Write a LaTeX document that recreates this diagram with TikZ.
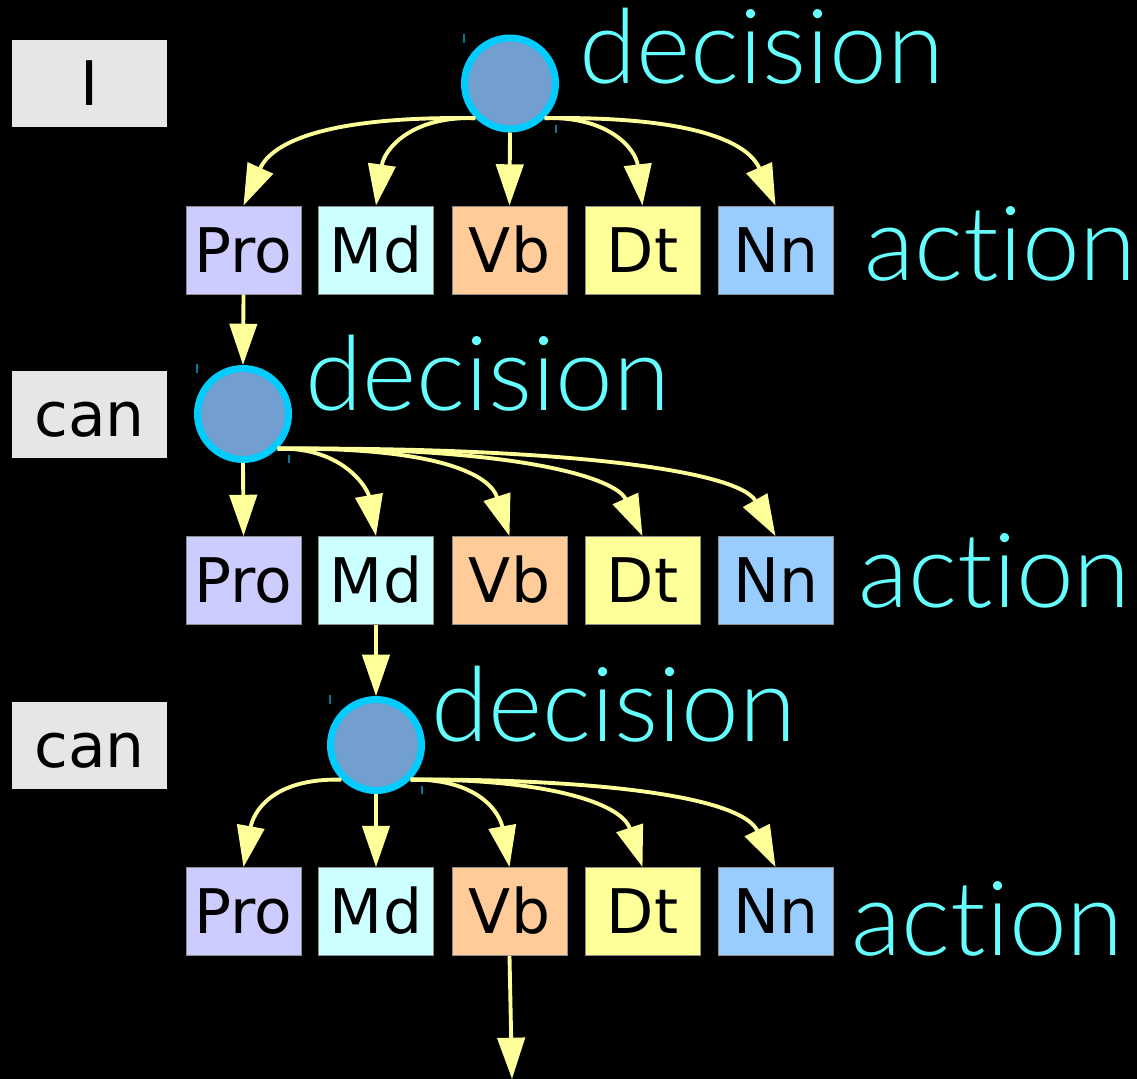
\documentclass[tikz,border=0pt]{standalone}
\usepackage{fontspec}
\setmainfont{DejaVu Sans}
\newfontfamily\labfont{Lato Light}[Ligatures=NoCommon]
\usetikzlibrary{arrows.meta}
\definecolor{arrowc}{HTML}{FFFF99}
\definecolor{labc}{HTML}{66FFFF}
\definecolor{lgray}{HTML}{E6E6E6}
\definecolor{decfill}{HTML}{729FCF}
\definecolor{decring}{HTML}{00CCFF}
\definecolor{cpro}{HTML}{CCCCFF}
\definecolor{cmd}{HTML}{CCFFFF}
\definecolor{cvb}{HTML}{FFCC99}
\definecolor{cdt}{HTML}{FFFF99}
\definecolor{cnn}{HTML}{99CCFF}
\begin{document}
\begin{tikzpicture}[x=0.02cm,y=-0.02cm,
  word/.style={draw=black!45, line width=0.5pt, minimum width=2.3cm, minimum height=1.76cm,
    inner sep=0pt, text height=25.5pt, text depth=0pt, text=black,
    font=\fontsize{35}{35}\selectfont},
  lbox/.style={fill=lgray, minimum width=3.1cm, minimum height=1.74cm,
    inner sep=0pt, text height=25.5pt, text depth=0pt, text=black,
    font=\fontsize{35}{35}\selectfont},
  dec/.style={circle, fill=decfill, draw=decring, line width=0.14cm,
    minimum size=1.82cm, inner sep=0pt},
  lab/.style={text=labc, anchor=base west, inner sep=0pt,
    font=\labfont\fontsize{59}{59}\selectfont},
  tick/.style={draw=decring!60!black, line width=0.6pt},
  arr/.style={draw=arrowc, line width=2.2pt, -{Triangle[length=23.5pt,width=15.5pt]}}
]
\fill[black] (0,0) rectangle (1137,1079);
\useasboundingbox (0,0) rectangle (1137,1079);

% left word boxes
\node[lbox] (w1) at (89.5,83.5) {I};
\node[lbox] (w2) at (89.5,414.5) {can};
\node[lbox] (w3) at (89.5,745.5) {can};

% action rows
\foreach \r/\y in {1/250,2/580.5,3/911.5}{
  \node[word, fill=cpro] (p\r) at (243.5,\y) {Pro};
  \node[word, fill=cmd]  (m\r) at (376,\y) {Md};
  \node[word, fill=cvb]  (v\r) at (509.5,\y) {Vb};
  \node[word, fill=cdt]  (d\r) at (642.5,\y) {Dt};
  \node[word, fill=cnn]  (n\r) at (775.5,\y) {Nn};
}

% decision circles
\node[dec] (c1) at (510,83.5) {};
\node[dec] (c2) at (243,414) {};
\node[dec] (c3) at (376,745) {};
\foreach \c in {c1,c2,c3}{
  \draw[tick] ([shift={(-46,-50)}]\c.center) -- ++(0,9);
  \draw[tick] ([shift={(46,41)}]\c.center) -- ++(0,8);
}

% labels
\node[lab] (t1) at (579,83) {decision};
\node[lab] (a1) at (864,280) {act\kern0pt ion};
\node[lab] (t2) at (305,410) {decision};
\node[lab] (a2) at (858,607) {act\kern0pt ion};
\node[lab] (t3) at (431,741) {decision};
\node[lab] (a3) at (851,955) {act\kern0pt ion};

% row 1 arrows
\draw[arr] (c1.-135) .. controls (327,116) and (272,142) .. (p1.north);
\draw[arr] (c1.-135) .. controls (410,116) and (384,150) .. (m1.north);
\draw[arr] (c1.south) -- (v1.north);
\draw[arr] (c1.-45) .. controls (610,116) and (636,150) .. (d1.north);
\draw[arr] (c1.-45) .. controls (693,116) and (748,142) .. (n1.north);

% pro -> decision 2
\draw[arr] (p1.south) -- (c2.north);

% row 2 arrows
\draw[arr] (c2.south) -- (p2.north);
\draw[arr] (c2.-45) .. controls (345,447) and (368,490) .. (m2.north);
\draw[arr] (c2.-45) .. controls (440,447) and (490,475) .. (v2.north);
\draw[arr] (c2.-45) .. controls (520,447) and (616,478) .. (d2.north);
\draw[arr] (c2.-45) .. controls (560,447) and (738,470) .. (n2.north);

% md -> decision 3
\draw[arr] (m2.south) -- (c3.north);

% row 3 arrows
\draw[arr] (c3.-135) .. controls (270,778) and (253,814) .. (p3.north);
\draw[arr] (c3.south) -- (m3.north);
\draw[arr] (c3.-45) .. controls (480,778.5) and (500,814) .. (v3.north);
\draw[arr] (c3.-45) .. controls (540,778.5) and (621,801.5) .. (d3.north);
\draw[arr] (c3.-45) .. controls (560,778.5) and (738,791.5) .. (n3.north);

% vb -> onward
\coordinate (out) at (512,1079);
\draw[arr] (v3.south) -- (out);
\end{tikzpicture}
\end{document}
